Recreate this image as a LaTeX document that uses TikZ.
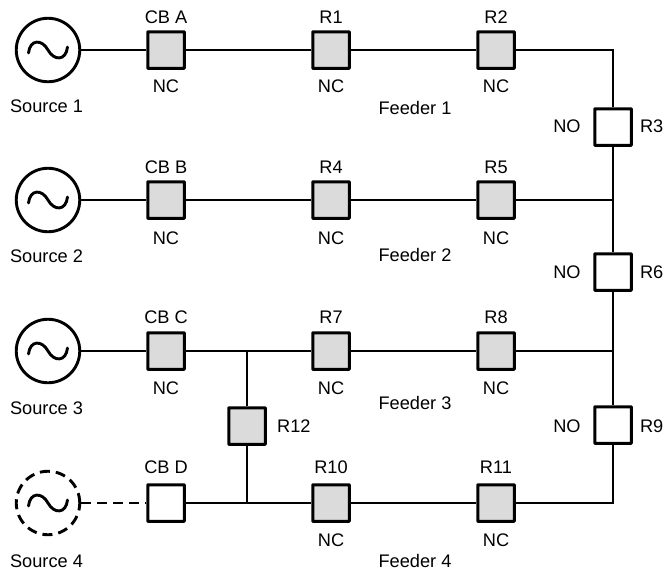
\documentclass[tikz,border=0pt]{standalone}
\usepackage{fontspec}
\setmainfont{Liberation Sans}
\usetikzlibrary{calc}
\tikzset{
  x=1pt,y=-1pt,
  wire/.style={line width=2.9pt,draw=black},
  sw/.style={draw=black,line width=3pt,minimum size=36.5pt,inner sep=0pt,rounded corners=0.6pt},
  closedsw/.style={sw,fill=black!14},
  opensw/.style={sw,fill=white},
  src/.style={circle,draw=black,line width=2.9pt,minimum size=63.5pt,inner sep=0pt},
  lbl/.style={font=\fontsize{18.2}{20}\selectfont,inner sep=0pt,text=black},
  wave/.style={line width=2.9pt,line cap=round}
}
\newcommand{\sinewave}[1]{\draw[wave] ($(#1)+(-19.5,3)$) .. controls ($(#1)+(-18,-11)$) and ($(#1)+(-6,-11)$) .. (#1) .. controls ($(#1)+(6,11)$) and ($(#1)+(18,11)$) .. ($(#1)+(19.5,-3)$);}
\begin{document}
\begin{tikzpicture}
\useasboundingbox (0,0) rectangle (664,571);
% junctions
\coordinate (j1) at (613,50);
\coordinate (j2) at (613,200);
\coordinate (j3) at (613,351);
\coordinate (j4) at (613,503);
\coordinate (k3) at (247,351);
\coordinate (k4) at (247,503);
% sources
\node[src] (s1) at (48,50) {};
\node[src] (s2) at (48,200) {};
\node[src] (s3) at (48,351) {};
\node[src,dashed,dash pattern=on 10pt off 6pt] (s4) at (48,503) {};
\sinewave{s1.center}
\sinewave{s2.center}
\sinewave{s3.center}
\sinewave{s4.center}
% switches
\node[closedsw] (cba) at (166,50) {};
\node[closedsw] (r1) at (331,50) {};
\node[closedsw] (r2) at (496,50) {};
\node[closedsw] (cbb) at (166,200) {};
\node[closedsw] (r4) at (331,200) {};
\node[closedsw] (r5) at (496,200) {};
\node[closedsw] (cbc) at (166,351) {};
\node[closedsw] (r7) at (331,351) {};
\node[closedsw] (r8) at (496,351) {};
\node[opensw] (cbd) at (166,503) {};
\node[closedsw] (r10) at (331,503) {};
\node[closedsw] (r11) at (496,503) {};
\node[closedsw] (r12) at (247,426) {};
\node[opensw] (r3) at (613,127) {};
\node[opensw] (r6) at (613,272) {};
\node[opensw] (r9) at (613,425) {};
% wires
\draw[wire] (s1) -- (cba);
\draw[wire] (cba) -- (r1);
\draw[wire] (r1) -- (r2);
\draw[wire,line join=miter] (r2) -- (j1) -- (r3);
\draw[wire] (s2) -- (cbb);
\draw[wire] (cbb) -- (r4);
\draw[wire] (r4) -- (r5);
\draw[wire] (r5) -- (j2);
\draw[wire] (r3) -- (j2);
\draw[wire] (j2) -- (r6);
\draw[wire] (s3) -- (cbc);
\draw[wire] (cbc) -- (k3);
\draw[wire] (k3) -- (r7);
\draw[wire] (r7) -- (r8);
\draw[wire] (r8) -- (j3);
\draw[wire] (r6) -- (j3);
\draw[wire] (j3) -- (r9);
\draw[wire] (k3) -- (r12);
\draw[wire] (r12) -- (k4);
\draw[wire,dashed,dash pattern=on 10pt off 6pt] (s4) -- (cbd);
\draw[wire] (cbd) -- (k4);
\draw[wire] (k4) -- (r10);
\draw[wire] (r10) -- (r11);
\draw[wire,line join=miter] (r11) -- (j4) -- (r9);
% labels
\node[lbl] (ls1) at (46.5,106) {Source 1};
\node[lbl] (ls2) at (46.5,256) {Source 2};
\node[lbl] (ls3) at (46.5,408) {Source 3};
\node[lbl] (ls4) at (46.5,561) {Source 4};
\node[lbl] (tcba) at (166,17) {CB A};
\node[lbl] (tr1) at (331,17) {R1};
\node[lbl] (tr2) at (496,17) {R2};
\node[lbl] (tcbb) at (166,167) {CB B};
\node[lbl] (tr4) at (331,167) {R4};
\node[lbl] (tr5) at (496,167) {R5};
\node[lbl] (tcbc) at (166,317) {CB C};
\node[lbl] (tr7) at (331,317) {R7};
\node[lbl] (tr8) at (496,317) {R8};
\node[lbl] (tcbd) at (166,467) {CB D};
\node[lbl] (tr10) at (331,467) {R10};
\node[lbl] (tr11) at (496,467) {R11};
\node[lbl] (ncba) at (166,86) {NC};
\node[lbl] (nr1) at (331,86) {NC};
\node[lbl] (nr2) at (496,86) {NC};
\node[lbl] (ncbb) at (166,238) {NC};
\node[lbl] (nr4) at (331,238) {NC};
\node[lbl] (nr5) at (496,238) {NC};
\node[lbl] (ncbc) at (166,388) {NC};
\node[lbl] (nr7) at (331,388) {NC};
\node[lbl] (nr8) at (496,388) {NC};
\node[lbl] (nr10) at (331,540) {NC};
\node[lbl] (nr11) at (496,540) {NC};
\node[lbl] (f1) at (415,108) {Feeder 1};
\node[lbl] (f2) at (415,255) {Feeder 2};
\node[lbl] (f3) at (415,403) {Feeder 3};
\node[lbl] (f4) at (415,561) {Feeder 4};
\node[lbl] (no1) at (567,126) {NO};
\node[lbl] (no2) at (567,272) {NO};
\node[lbl] (no3) at (567,426) {NO};
\node[lbl,anchor=east] (tr3) at (663.5,126) {R3};
\node[lbl,anchor=east] (tr6) at (663.5,272) {R6};
\node[lbl,anchor=east] (tr9) at (663.5,426) {R9};
\node[lbl,anchor=west] (tr12) at (277,426) {R12};
\end{tikzpicture}
\end{document}
